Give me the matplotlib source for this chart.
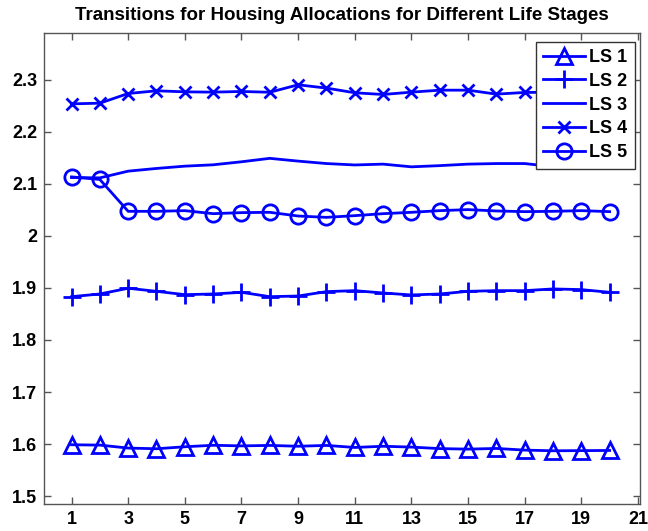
import matplotlib
matplotlib.use("Agg")
import matplotlib.pyplot as plt

plt.rcParams['font.family'] = ['Liberation Sans', 'DejaVu Sans']

stages = list(range(1, 21))

ls1 = [1.5987, 1.5980, 1.5923, 1.5910, 1.5948, 1.5977, 1.5965, 1.5974, 1.5958, 1.5974,
       1.5935, 1.5958, 1.5942, 1.5913, 1.5903, 1.5916, 1.5884, 1.5871, 1.5874, 1.5877]
ls2 = [1.8832, 1.8884, 1.8994, 1.8935, 1.8871, 1.8884, 1.8916, 1.8832, 1.8845, 1.8929,
       1.8948, 1.8903, 1.8865, 1.8884, 1.8935, 1.8948, 1.8948, 1.8981, 1.8968, 1.8916]
ls3 = [2.1121, 2.1115, 2.1244, 2.1296, 2.1340, 2.1366, 2.1424, 2.1490, 2.1437, 2.1390,
       2.1363, 2.1379, 2.1327, 2.1350, 2.1379, 2.1390, 2.1390, 2.1330, 2.1310, 2.1370]
ls4 = [2.2537, 2.2550, 2.2736, 2.2788, 2.2768, 2.2762, 2.2775, 2.2760, 2.2903, 2.2840,
       2.2750, 2.2717, 2.2762, 2.2800, 2.2800, 2.2724, 2.2756, 2.2760, 2.2780, 2.2750]
ls5 = [2.1134, 2.1084, 2.0472, 2.0472, 2.0485, 2.0427, 2.0447, 2.0453, 2.0382, 2.0356,
       2.0389, 2.0427, 2.0453, 2.0485, 2.0505, 2.0479, 2.0466, 2.0472, 2.0485, 2.0466]

labels = ['LS 1', 'LS 2', 'LS 3', 'LS 4', 'LS 5']
xticks = list(range(1, 22, 2))
yticks = [1.5, 1.6, 1.7, 1.8, 1.9, 2.0, 2.1, 2.2, 2.3]
ytick_labels = ['1.5', '1.6', '1.7', '1.8', '1.9', '2', '2.1', '2.2', '2.3']

fig = plt.figure(figsize=(6.48, 5.31), dpi=100)
ax = fig.add_axes([0.068, 0.051, 0.920, 0.887])

blue = (0, 0, 1)
lw = 2.0
ax.plot(stages, ls1, color=blue, lw=lw, marker='^', ms=11, mfc='none', mew=2, label=labels[0])
ax.plot(stages, ls2, color=blue, lw=lw, marker='+', ms=13, mew=2, label=labels[1])
ax.plot(stages, ls3, color=blue, lw=lw, label=labels[2])
ax.plot(stages, ls4, color=blue, lw=lw, marker='x', ms=8, mew=2, label=labels[3])
ax.plot(stages, ls5, color=blue, lw=lw, marker='o', ms=11, mfc='none', mew=2, label=labels[4])

ax.set_xlim(0.03, 21.08)
ax.set_ylim(1.485, 2.39)
ax.set_xticks(xticks)
ax.set_yticks(yticks)
ax.set_yticklabels(ytick_labels)

axis_gray = '#555555'
for s in ax.spines.values():
    s.set_color(axis_gray)
    s.set_linewidth(1.0)
ax.tick_params(direction='in', top=True, right=True, length=5, width=1,
               color=axis_gray, labelcolor='black', labelsize=13, pad=5)
for t in ax.get_xticklabels() + ax.get_yticklabels():
    t.set_fontweight('bold')

ax.set_title('Transitions for Housing Allocations for Different Life Stages',
             fontsize=13.5, fontweight='bold', pad=9)

leg = ax.legend(loc='upper right', bbox_to_anchor=(1.0, 0.993),
                prop={'weight': 'bold', 'size': 13},
                fancybox=False, framealpha=1, edgecolor='#333333',
                handlelength=2.3, borderpad=0.4, labelspacing=0.38,
                handletextpad=0.25, borderaxespad=0.3)
leg.get_frame().set_linewidth(1.0)

fig.savefig('out.png', dpi=100)
